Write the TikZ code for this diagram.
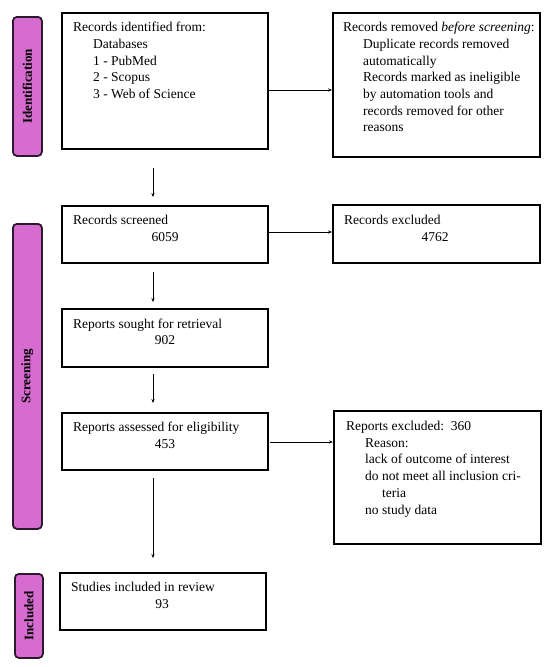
\documentclass[tikz,border=0pt]{standalone}
\usepackage{fontspec}
\setmainfont{Liberation Serif}
\usetikzlibrary{arrows.meta}
\definecolor{tabfill}{RGB}{214,108,208}
\definecolor{tabline}{RGB}{45,25,45}
\tikzset{
  box/.style={draw=black, line width=1.6pt, inner sep=0pt, anchor=north west},
  tab/.style={draw=tabline, fill=tabfill, line width=1.8pt, rounded corners=4pt, inner sep=0pt, anchor=north west},
  tabtext/.style={font=\fontsize{13}{14}\selectfont\bfseries, rotate=90},
  txt/.style={font=\fontsize{13.5}{16.7}\selectfont, align=left, anchor=north west, inner sep=0pt},
  num/.style={font=\fontsize{13.5}{14}\selectfont, anchor=base, inner sep=0pt},
  conn/.style={line width=0.8pt, -{Stealth[length=4pt,width=3.2pt]}}
}
\begin{document}
\begin{tikzpicture}[x=1pt,y=-1pt]
\useasboundingbox (0,0) rectangle (550,667);
% tabs
\node[tab, minimum width=29pt, minimum height=139pt] (tid) at (12,16) {};
\node[tabtext] at (tid.center) {Identification};
\node[tab, minimum width=29pt, minimum height=305pt] (tsc) at (12,223) {};
\node[tabtext] at (tsc.center) {Screening};
\node[tab, minimum width=28pt, minimum height=84pt] (tin) at (14,573) {};
\node[tabtext] at (tin.center) {Included};
% boxes
\node[box, minimum width=206pt, minimum height=136pt] (b1) at (61,12) {};
\node[box, minimum width=207pt, minimum height=144pt] (r1) at (332,12) {};
\node[box, minimum width=206pt, minimum height=57pt] (b2) at (61,205) {};
\node[box, minimum width=207pt, minimum height=58pt] (r2) at (332,204) {};
\node[box, minimum width=206pt, minimum height=58pt] (b3) at (61,308) {};
\node[box, minimum width=206pt, minimum height=57pt] (b4) at (61,412) {};
\node[box, minimum width=207pt, minimum height=133pt] (r4) at (333,410) {};
\node[box, minimum width=206pt, minimum height=57pt] (b5) at (59,572) {};
% texts
\node[txt] (t1) at (73,22) {Records identified from:\\
\hspace*{20pt}Databases\\
\hspace*{20pt}1 - PubMed\\
\hspace*{20pt}2 - Scopus\\
\hspace*{20pt}3 - Web of Science};
\node[txt] (tr1) at (343,22) {Records removed \textit{before screening}:\\
\hspace*{20pt}Duplicate records removed\\
\hspace*{20pt}automatically\\
\hspace*{20pt}Records marked as ineligible\\
\hspace*{20pt}by automation tools and\\
\hspace*{20pt}records removed for other\\
\hspace*{20pt}reasons};
\node[txt] (t2) at (73,215) {Records screened};
\node[num] (n2) at (165,241) {6059};
\node[txt] (tr2) at (344,215) {Records excluded};
\node[num] (nr2) at (435,241) {4762};
\node[txt] (t3) at (73,319) {Reports sought for retrieval};
\node[num] (n3) at (165,344) {902};
\node[txt] (t4) at (73,422) {Reports assessed for eligibility};
\node[num] (n4) at (165,448) {453};
\node[txt] (tr4) at (346,421) {Reports excluded:\ \ 360\\
\hspace*{19pt}Reason:\\
\hspace*{19pt}lack of outcome of interest\\
\hspace*{19pt}do not meet all inclusion cri-\\
\hspace*{36pt}teria\\
\hspace*{19pt}no study data};
\node[txt] (t5) at (71,582) {Studies included in review};
\node[num] (n5) at (162,608) {93};
% connectors
\coordinate (a1s) at (153,168);
\coordinate (a1e) at (153,197);
\draw[conn] (a1s) -- (a1e);
\coordinate (a2s) at (153,272);
\coordinate (a2e) at (153,302);
\draw[conn] (a2s) -- (a2e);
\coordinate (a3s) at (153,374);
\coordinate (a3e) at (153,403);
\draw[conn] (a3s) -- (a3e);
\coordinate (a4s) at (153,478);
\coordinate (a4e) at (153,558);
\draw[conn] (a4s) -- (a4e);
\draw[conn] (b1.east |- 0,90) -- (r1.west |- 0,90);
\draw[conn] (b2.east |- 0,232) -- (r2.west |- 0,232);
\draw[conn] (270,442) -- (r4.west |- 0,442);
\end{tikzpicture}
\end{document}
